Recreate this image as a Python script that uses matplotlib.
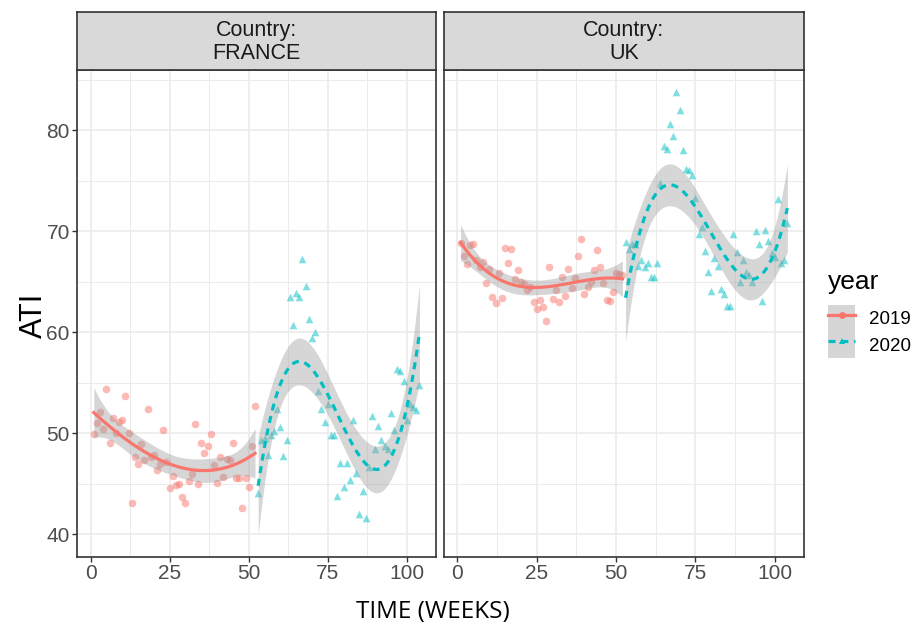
import numpy as np
import matplotlib.pyplot as plt
from matplotlib.lines import Line2D
from matplotlib.patches import Patch
from matplotlib.legend_handler import HandlerTuple

plt.rcParams['font.family'] = ['Liberation Sans', 'DejaVu Sans']

# weekly ATI values
weeks_2019 = list(range(1, 53))
weeks_2020 = list(range(53, 105))

france_2019 = [49.9, 51.0, 52.1, 50.4, 54.4, 49.0, 51.5, 50.0, 51.1, 51.3,
               53.7, 50.0, 43.1, 47.7, 47.0, 48.9, 47.4, 52.4, 47.7, 47.9,
               46.4, 47.0, 50.3, 47.2, 44.6, 45.8, 44.9, 45.0, 43.7, 43.1,
               45.3, 46.0, 50.9, 45.0, 49.0, 48.1, 48.7, 49.9, 46.9, 45.1,
               47.7, 45.7, 47.5, 47.4, 49.0, 45.6, 45.6, 42.6, 45.6, 44.7,
               48.7, 52.7]
france_2020 = [44.1, 49.3, 49.5, 47.9, 49.8, 50.2, 52.4, 50.6, 47.8, 49.3,
               63.5, 60.7, 63.9, 63.5, 67.3, 64.6, 61.3, 59.4, 60.0, 54.2,
               52.4, 51.1, 52.9, 49.8, 49.8, 43.8, 47.1, 44.7, 47.1, 45.4,
               51.3, 46.1, 42.0, 44.3, 41.6, 46.7, 51.7, 48.5, 50.7, 49.3,
               48.7, 48.5, 52.0, 50.3, 56.4, 56.2, 55.2, 51.3, 52.9, 52.6,
               52.3, 54.8]
uk_2019 = [68.9, 67.6, 66.8, 68.7, 68.8, 67.2, 66.5, 67.0, 64.9, 66.3,
           63.5, 62.9, 65.9, 63.4, 68.4, 66.9, 68.3, 65.3, 66.2, 65.0,
           64.8, 64.2, 64.5, 63.0, 62.3, 63.2, 62.5, 61.1, 66.5, 63.3,
           64.2, 63.0, 65.5, 63.6, 66.3, 64.4, 65.4, 67.6, 69.3, 63.8,
           64.5, 65.0, 66.2, 68.2, 66.5, 64.9, 63.2, 63.1, 64.0, 65.9,
           65.8, 65.7]
uk_2020 = [69.0, 68.3, 68.8, 68.8, 66.6, 67.2, 66.5, 66.9, 65.5, 65.5,
           66.9, 74.8, 78.5, 78.2, 80.6, 79.5, 83.8, 82.0, 78.1, 76.2,
           76.1, 75.6, 73.3, 69.7, 70.4, 68.1, 66.0, 64.1, 67.4, 66.6,
           64.3, 63.8, 62.6, 62.6, 69.7, 68.0, 65.0, 67.2, 66.0, 65.7,
           65.0, 70.0, 68.8, 63.1, 70.1, 69.1, 67.9, 67.5, 73.2, 66.9,
           67.2, 70.8]

countries = ['FRANCE', 'UK']
years = ['2019', '2020']
series = {
    ('FRANCE', '2019'): (weeks_2019, france_2019),
    ('FRANCE', '2020'): (weeks_2020, france_2020),
    ('UK', '2019'): (weeks_2019, uk_2019),
    ('UK', '2020'): (weeks_2020, uk_2020),
}
colors = {'2019': '#F8766D', '2020': '#00BFC4'}
markers = {'2019': 'o', '2020': '^'}
styles = {'2019': '-', '2020': (0, (2.2, 1.8))}


def cubic_smooth(x, y, n=80, t=2.0106):
    # lm(y ~ poly(x, 3)) with 95% confidence band, like geom_smooth
    x = np.asarray(x, float)
    y = np.asarray(y, float)
    xm, xs = x.mean(), x.std()
    X = np.vander((x - xm) / xs, 4)
    beta = np.linalg.lstsq(X, y, rcond=None)[0]
    resid = y - X @ beta
    s2 = resid @ resid / (len(x) - 4)
    cov = s2 * np.linalg.inv(X.T @ X)
    xg = np.linspace(x.min(), x.max(), n)
    G = np.vander((xg - xm) / xs, 4)
    fit = G @ beta
    se = np.sqrt(np.einsum('ij,jk,ik->i', G, cov, G))
    return xg, fit, fit - t * se, fit + t * se


fits = {k: cubic_smooth(*v) for k, v in series.items()}

allv = []
for k, v in series.items():
    allv += list(v[1])
    allv += list(fits[k][2]) + list(fits[k][3])
lo, hi = min(allv), max(allv)
pad = (hi - lo) * 0.05
ylim = (lo - pad, hi + pad)
xlim = (1 - 103 * 0.05, 104 + 103 * 0.05)

fig = plt.figure(figsize=(9.2, 6.29), dpi=100)
W, H = 920, 629
panel_x = {'FRANCE': (77.5, 435.7), 'UK': (444.3, 803.7)}
top, bottom, strip_top = 70, 556.7, 11.7

for i, country in enumerate(countries):
    x0, x1 = panel_x[country]
    ax = fig.add_axes([x0 / W, 1 - bottom / H, (x1 - x0) / W, (bottom - top) / H])
    sax = fig.add_axes([x0 / W, 1 - top / H, (x1 - x0) / W, (top - strip_top) / H])

    for yr in years:
        wx, wy = series[(country, yr)]
        ax.scatter(wx, wy, s=30, marker=markers[yr], color=colors[yr],
                   alpha=0.5, linewidths=0, zorder=2)
    for yr in years:
        xg, fit, lw_, up_ = fits[(country, yr)]
        ax.fill_between(xg, lw_, up_, color='#999999', alpha=0.4,
                        linewidth=0, zorder=3)
        ax.plot(xg, fit, color=colors[yr], lw=2.3, linestyle=styles[yr],
                zorder=4)

    ax.set_xlim(xlim)
    ax.set_ylim(ylim)
    ax.set_xticks([0, 25, 50, 75, 100])
    ax.set_xticks([12.5, 37.5, 62.5, 87.5], minor=True)
    ax.set_yticks([40, 50, 60, 70, 80])
    ax.set_yticks([45, 55, 65, 75, 85], minor=True)
    ax.grid(which='major', color='#EBEBEB', lw=1.2, zorder=0)
    ax.grid(which='minor', color='#EBEBEB', lw=0.7, zorder=0)
    ax.set_axisbelow(True)
    ax.tick_params(which='major', length=3.5, width=1, color='#333333',
                   labelsize=15, labelcolor='#4D4D4D', pad=2)
    ax.tick_params(which='minor', length=0)
    if i > 0:
        ax.tick_params(axis='y', which='both', left=False, labelleft=False)
    for sp in ax.spines.values():
        sp.set_color('#333333')
        sp.set_linewidth(1.2)

    sax.set_facecolor('#D9D9D9')
    sax.set_xticks([])
    sax.set_yticks([])
    for sp in sax.spines.values():
        sp.set_color('#333333')
        sp.set_linewidth(1.2)
    sax.text(0.5, 0.48, f'Country:\n{country}', ha='center', va='center',
             fontsize=15.5, color='#1A1A1A', linespacing=1.15,
             transform=sax.transAxes)

fig.text(34 / W, 1 - 315 / H, 'ATI', rotation=90, ha='center', va='center',
         fontsize=22, color='black')
fig.text(433 / W, 1 - 612 / H, 'TIME (WEEKS)', ha='center', va='center',
         fontsize=17.5, color='black', family='Open Sans')

handles = []
for yr in years:
    bg = Patch(facecolor='#D6D6D6', edgecolor='none')
    ln = Line2D([], [], color=colors[yr], lw=2.3, linestyle=styles[yr],
                marker=markers[yr], markersize=5, markeredgewidth=0,
                markerfacecolor=colors[yr], alpha=1)
    handles.append((bg, ln))
leg = fig.legend(handles, years, title='year', loc='upper left',
                 bbox_to_anchor=(828 / W, 1 - 270 / H), frameon=False,
                 fontsize=13.5, title_fontsize=19, alignment='left',
                 handler_map={tuple: HandlerTuple(ndivide=1, pad=0)},
                 handlelength=1.45, handleheight=1.8, labelspacing=0.0,
                 handletextpad=0.75, borderpad=0, borderaxespad=0)
leg._legend_box.sep = 8

fig.savefig('out.png', dpi=100)
